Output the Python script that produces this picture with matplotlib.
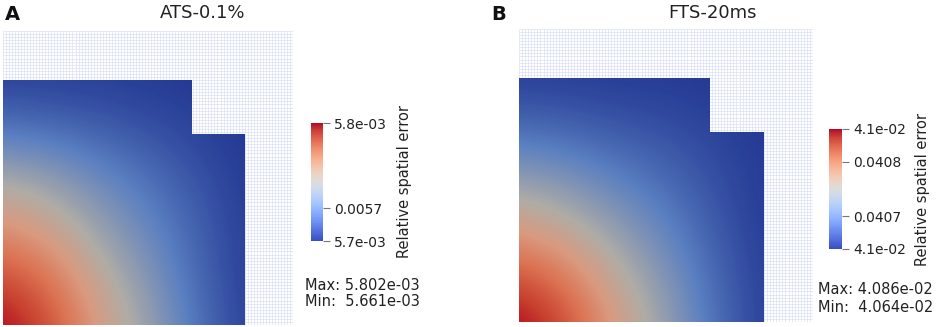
import matplotlib
matplotlib.use("Agg")
import matplotlib.pyplot as plt
import numpy as np
from matplotlib.colors import LinearSegmentedColormap, Normalize
from matplotlib.patches import Polygon
import matplotlib.cm as cm

# ------------------------------------------------------------------------------
# data
titles = ["ATS-0.1%", "FTS-20ms"]
panel_tags = ["A", "B"]

# L-shaped domain (unit square with the top right corner cut out)
domain_x = [0.0, 1.0, 1.0, 0.78, 0.78, 0.0]
domain_y = [0.0, 0.0, 0.78, 0.78, 1.0, 1.0]

# node positions of the coarse sample grid
node_pos = [0.0, 0.2, 0.4, 0.6, 0.8, 1.0]

# fraction of the colour range at each node, rows = y (bottom to top), cols = x
frac_a = [
    [1.00, 0.87, 0.64, 0.44, 0.22, 0.03],
    [0.87, 0.77, 0.56, 0.37, 0.18, 0.02],
    [0.69, 0.60, 0.43, 0.29, 0.15, 0.02],
    [0.48, 0.41, 0.30, 0.20, 0.10, 0.01],
    [0.22, 0.19, 0.14, 0.09, 0.04, 0.00],
    [0.03, 0.02, 0.02, 0.01, 0.00, 0.00],
]
frac_b = [
    [1.00, 0.87, 0.64, 0.43, 0.20, 0.02],
    [0.85, 0.74, 0.54, 0.36, 0.17, 0.02],
    [0.63, 0.54, 0.40, 0.27, 0.12, 0.01],
    [0.40, 0.34, 0.25, 0.17, 0.08, 0.01],
    [0.18, 0.15, 0.11, 0.08, 0.04, 0.00],
    [0.02, 0.02, 0.01, 0.01, 0.00, 0.00],
]

err_min = [5.661e-03, 4.064e-02]
err_max = [5.802e-03, 4.086e-02]
max_txt = ["5.802e-03", "4.086e-02"]
min_txt = ["5.661e-03", "4.064e-02"]

cbar_ticks_a = [5.661e-03, 0.0057, 5.802e-03]
cbar_labels_a = ["5.7e-03", "0.0057", "5.8e-03"]
cbar_ticks_b = [4.064e-02, 0.0407, 0.0408, 4.086e-02]
cbar_labels_b = ["4.1e-02", "0.0407", "0.0408", "4.1e-02"]

# ------------------------------------------------------------------------------
W, H = 941, 327
fig = plt.figure(figsize=(W / 100, H / 100), dpi=100)

def px_axes(x0, y0, x1, y1):
    # pixel box (top-left origin) -> figure axes
    return fig.add_axes([x0 / W, 1 - y1 / H, (x1 - x0) / W, (y1 - y0) / H])

# shaded surface colours (lit, so darker than the bar)
field_cmap = LinearSegmentedColormap.from_list(
    "field", [(0.0, "#233893"), (0.25, "#5a7fc1"), (0.5, "#afaca6"),
              (0.65, "#d99a80"), (0.78, "#dc7252"), (0.9, "#c8402e"),
              (1.0, "#b0001f")])

field_boxes = [(3, 31, 293, 325), (519, 29, 813, 322)]
cbar_boxes = [(311, 123, 323, 241), (829, 129, 842, 249)]
fracs = [frac_a, frac_b]
ticks = [(cbar_ticks_a, cbar_labels_a), (cbar_ticks_b, cbar_labels_b)]
label_x = [405, 923]
stat_x = [305, 818]
stat_y = [(285, 302), (290, 308)]
title_x = [203, 712]
tag_x = [5, 491]

step = 0.2
for i in range(2):
    ax = px_axes(*field_boxes[i])
    ax.set_xlim(0, 1.2)
    ax.set_ylim(0, 1.2)
    ax.axis("off")

    # background mesh
    lines = np.arange(0, 1.2 + 1e-9, 0.0125)
    ax.vlines(lines, 0, 1.2, color="#d3daf4", lw=0.4, zorder=0)
    ax.hlines(lines, 0, 1.2, color="#d3daf4", lw=0.4, zorder=0)

    lo = node_pos[0] - step / 2
    hi = node_pos[-1] + step / 2
    im = ax.imshow(np.array(fracs[i]), origin="lower", extent=[lo, hi, lo, hi],
                   interpolation="bicubic", cmap=field_cmap, vmin=0, vmax=1,
                   aspect="auto", zorder=2)
    shape = Polygon(np.column_stack([domain_x, domain_y]), closed=True,
                    transform=ax.transData, facecolor="none", edgecolor="none")
    ax.add_patch(shape)
    im.set_clip_path(shape)

    # colour bar
    cax = px_axes(*cbar_boxes[i])
    sm = cm.ScalarMappable(norm=Normalize(err_min[i], err_max[i]), cmap="coolwarm")
    cb = fig.colorbar(sm, cax=cax)
    cb.outline.set_visible(False)
    cb.set_ticks(ticks[i][0])
    cb.set_ticklabels(ticks[i][1])
    cax.tick_params(axis="y", length=5, width=0.8, color="#777777", pad=3,
                    labelsize=10, labelcolor="#222222")
    cax.yaxis.set_minor_locator(matplotlib.ticker.NullLocator())

    cy = (cbar_boxes[i][1] + cbar_boxes[i][3]) / 2
    fig.text(label_x[i] / W, 1 - cy / H, "Relative spatial error", rotation=90,
             ha="center", va="center", fontsize=10.5, color="#222222")

    fig.text(stat_x[i] / W, 1 - stat_y[i][0] / H, "Max: " + max_txt[i],
             ha="left", va="center", fontsize=10.5, color="#222222")
    fig.text(stat_x[i] / W, 1 - stat_y[i][1] / H, "Min:  " + min_txt[i],
             ha="left", va="center", fontsize=10.5, color="#222222")

    fig.text(title_x[i] / W, 1 - 13 / H, titles[i], ha="center", va="center",
             fontsize=13, color="#222222")
    fig.text(tag_x[i] / W, 1 - 14 / H, panel_tags[i], ha="left", va="center",
             fontsize=14, fontweight="bold", color="#111111")

fig.savefig("out.png", dpi=100)
